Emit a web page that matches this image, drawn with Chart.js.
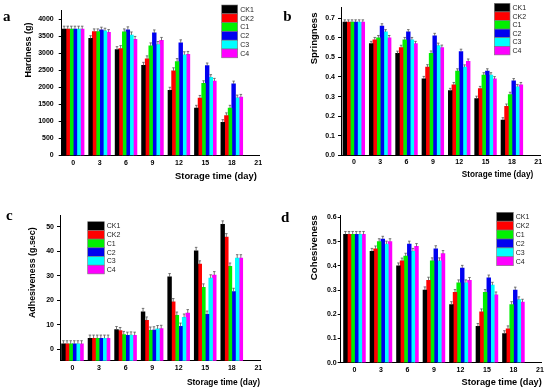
<!DOCTYPE html>
<html>
<head>
<meta charset="utf-8">
<script src="https://cdn.jsdelivr.net/npm/chart.js@4.4.0/dist/chart.umd.min.js"></script>
<style>
html, body { margin: 0; padding: 0; background: #fff; }
#wrap { position: relative; width: 550px; height: 390px; }
.pn { position: absolute; width: 275px; height: 195px; }
canvas { display: block; }
</style>
</head>
<body>
<div id="wrap">
  <div class="pn" style="left:0;top:0"><canvas id="cA" width="275" height="195"></canvas></div>
  <div class="pn" style="left:275px;top:0"><canvas id="cB" width="275" height="195"></canvas></div>
  <div class="pn" style="left:0;top:195px"><canvas id="cC" width="275" height="195"></canvas></div>
  <div class="pn" style="left:275px;top:195px"><canvas id="cD" width="275" height="195"></canvas></div>
</div>
<script>
// storage days and treatments
var days = [0, 3, 6, 9, 12, 15, 18];
var dayTicks = [0, 3, 6, 9, 12, 15, 18, 21];
var seriesNames = ['CK1', 'CK2', 'C1', 'C2', 'C3', 'C4'];
var seriesColors = ['#000000', '#ff0000', '#00f000', '#0000f0', '#00ffff', '#ff00ff'];

// a - hardness (g), one row per treatment
var hardness = [
  [3700, 3430, 3100, 2640, 1910, 1390, 970],
  [3700, 3630, 3130, 2830, 2480, 1680, 1170],
  [3700, 3630, 3620, 3210, 2750, 2110, 1390],
  [3700, 3680, 3680, 3590, 3300, 2630, 2100],
  [3700, 3650, 3530, 3250, 2950, 2290, 1690],
  [3700, 3610, 3400, 3370, 2960, 2180, 1710]
];
var hardnessErr = [90, 80, 90, 90, 90, 80, 80];
var hardnessTicks = [0, 500, 1000, 1500, 2000, 2500, 3000, 3500, 4000];

// b - springness
var springness = [
  [0.68, 0.57, 0.52, 0.39, 0.33, 0.29, 0.18],
  [0.68, 0.59, 0.55, 0.45, 0.36, 0.34, 0.25],
  [0.68, 0.60, 0.59, 0.52, 0.43, 0.41, 0.31],
  [0.68, 0.66, 0.63, 0.61, 0.53, 0.43, 0.38],
  [0.68, 0.63, 0.59, 0.56, 0.45, 0.41, 0.35],
  [0.68, 0.60, 0.57, 0.55, 0.48, 0.39, 0.36]
];
var springnessErr = [0.012, 0.012, 0.012, 0.013, 0.012, 0.012, 0.012];
var springnessTicks = [0, 0.1, 0.2, 0.3, 0.4, 0.5, 0.6, 0.7];

// c - adhesiveness (g.sec)
var adhesiveness = [
  [2.2, 4.5, 8.0, 15.3, 29.5, 40.2, 51.0],
  [2.2, 4.5, 7.6, 11.8, 19.3, 34.7, 45.8],
  [2.2, 4.5, 6.0, 7.7, 13.8, 25.3, 33.8],
  [2.2, 4.5, 5.7, 7.8, 9.3, 14.2, 23.5],
  [2.2, 4.5, 5.8, 8.3, 13.0, 29.0, 37.2],
  [2.2, 4.5, 5.7, 8.4, 14.8, 30.3, 37.2]
];
var adhesivenessErr = [1.3, 1.3, 1.3, 1.4, 1.4, 1.4, 1.4];
var adhesivenessTicks = [0, 10, 20, 30, 40, 50];

// d - cohesiveness
var cohesiveness = [
  [0.53, 0.46, 0.40, 0.30, 0.24, 0.15, 0.12],
  [0.53, 0.47, 0.42, 0.34, 0.29, 0.21, 0.14],
  [0.53, 0.50, 0.44, 0.42, 0.33, 0.29, 0.24],
  [0.53, 0.51, 0.49, 0.47, 0.39, 0.35, 0.30],
  [0.53, 0.49, 0.46, 0.42, 0.33, 0.32, 0.26],
  [0.53, 0.50, 0.48, 0.45, 0.34, 0.28, 0.25]
];
var cohesivenessErr = [0.012, 0.012, 0.012, 0.013, 0.012, 0.012, 0.012];
var cohesivenessTicks = [0, 0.1, 0.2, 0.3, 0.4, 0.5, 0.6];

Chart.defaults.font.family = "'Liberation Sans', Arial, sans-serif";
Chart.defaults.color = '#000';

// error bar caps on top of every bar
var errorBars = {
  id: 'errorBars',
  afterDatasetsDraw: function(chart, args, opts) {
    var ctx = chart.ctx, ys = chart.scales.y;
    ctx.save();
    ctx.strokeStyle = '#555';
    ctx.lineWidth = 0.8;
    chart.data.datasets.forEach(function(ds, i) {
      chart.getDatasetMeta(i).data.forEach(function(bar, j) {
        var top = ys.getPixelForValue(ds.data[j].y + opts.err[j]);
        var cap = bar.width * 0.35;
        ctx.beginPath();
        ctx.moveTo(bar.x, bar.y);
        ctx.lineTo(bar.x, top);
        ctx.moveTo(bar.x - cap, top);
        ctx.lineTo(bar.x + cap, top);
        ctx.stroke();
      });
    });
    ctx.restore();
  }
};

// stacked box legend inside the plot + panel letter
var boxLegend = {
  id: 'boxLegend',
  afterDraw: function(chart, args, o) {
    var ctx = chart.ctx;
    ctx.save();
    ctx.font = "7px 'Liberation Sans', Arial, sans-serif";
    ctx.textBaseline = 'middle';
    chart.data.datasets.forEach(function(ds, i) {
      var y0 = o.y + i * o.h;
      ctx.fillStyle = ds.backgroundColor;
      ctx.fillRect(o.x, y0, o.w, o.h);
      ctx.strokeStyle = '#777';
      ctx.lineWidth = 0.6;
      ctx.strokeRect(o.x, y0, o.w, o.h);
      ctx.fillStyle = '#222';
      ctx.fillText(ds.label, o.x + o.w + 2.5, y0 + o.h / 2 + 0.5);
    });
    ctx.font = "bold 15px 'Liberation Serif', 'Times New Roman', serif";
    ctx.fillStyle = '#000';
    ctx.textBaseline = 'alphabetic';
    ctx.fillText(o.tag, o.tagX, o.tagY);
    ctx.restore();
  }
};

function makePanel(id, p) {
  var datasets = seriesNames.map(function(n, i) {
    return {
      label: n,
      data: days.map(function(d, j) { return { x: d, y: p.values[i][j] }; }),
      backgroundColor: seriesColors[i],
      borderWidth: 0,
      inflateAmount: 0.4,
      base: p.base,
      categoryPercentage: 0.82,
      barPercentage: 1
    };
  });
  new Chart(document.getElementById(id), {
    type: 'bar',
    data: { datasets: datasets },
    options: {
      responsive: false,
      animation: false,
      devicePixelRatio: 1,
      layout: { padding: p.pad },
      plugins: {
        legend: { display: false },
        tooltip: { enabled: false },
        errorBars: { err: p.err },
        boxLegend: p.legend
      },
      scales: {
        x: {
          type: 'linear',
          offset: false,
          min: p.xMin, max: p.xMax,
          afterBuildTicks: function(s) { s.ticks = dayTicks.map(function(v) { return { value: v }; }); },
          afterFit: function(s) { s.height = p.xH; },
          grid: { drawOnChartArea: false, drawTicks: false },
          border: { color: '#000', width: 1 },
          ticks: { padding: 3, maxRotation: 0, autoSkip: false,
                   font: { size: 7, weight: 'bold' }, callback: function(v) { return String(v); } },
          title: { display: true, text: 'Storage time (day)' + p.xTail, align: 'end',
                   font: { size: p.xTitleSize, weight: 'bold' },
                   padding: { top: 0, bottom: p.xTitleBottom } }
        },
        y: {
          min: p.yMin, max: p.yMax,
          afterBuildTicks: function(s) { s.ticks = p.yTicks.map(function(v) { return { value: v }; }); },
          afterFit: function(s) { s.width = p.yW; },
          grid: { drawOnChartArea: false, drawTicks: true, tickLength: 3, color: '#000' },
          border: { color: '#000', width: 1 },
          ticks: { padding: p.yTickPad, autoSkip: false,
                   font: { size: 7, weight: 'bold' }, callback: p.fmt },
          title: { display: true, text: p.yTitle, align: 'end',
                   font: { size: p.yTitleSize, weight: 'bold' },
                   padding: { top: p.yTitlePad, bottom: 0 } }
        }
      }
    },
    plugins: [errorBars, boxLegend]
  });
}

function fmtInt(v) { return String(v); }
function fmt1(v) { return v.toFixed(1); }

makePanel('cA', {
  values: hardness, err: hardnessErr, yTicks: hardnessTicks,
  pad: { left: 0, top: 10, right: 15.6, bottom: 0 }, yW: 61.7, xH: 39.5,
  xMin: -1.3, xMax: 21.13, yMin: 0, yMax: 4264, fmt: fmtInt,
  yTickPad: 5, yTitle: 'Hardness (g)\u00a0\u00a0\u00a0\u00a0\u00a0', yTitleSize: 9, yTitlePad: 23.6,
  xTail: ' ', xTitleSize: 9.4, xTitleBottom: 13.3,
  legend: { x: 221.7, y: 5, w: 16, h: 8.8, tag: 'a', tagX: 3, tagY: 20.7 }
});

makePanel('cB', {
  values: springness, err: springnessErr, yTicks: springnessTicks,
  pad: { left: 0, top: 7.3, right: 10, bottom: 0 }, yW: 66, xH: 39.7,
  xMin: -1.46, xMax: 21.2, yMin: 0, yMax: 0.756, fmt: fmt1,
  yTickPad: 3, yTitle: 'Springness\u00a0\u00a0', yTitleSize: 9.5, yTitlePad: 33.9,
  xTail: '\u00a0\u00a0\u00a0', xTitleSize: 8.2, xTitleBottom: 15,
  legend: { x: 219.3, y: 3.3, w: 15.7, h: 8.6, tag: 'b', tagX: 8.3, tagY: 20.7 }
});

makePanel('cC', {
  values: adhesiveness, err: adhesivenessErr, yTicks: adhesivenessTicks, base: -4.65,
  pad: { left: 0, top: 20, right: 15, bottom: 0 }, yW: 60, xH: 29.3,
  xMin: -1.41, xMax: 21.19, yMin: -4.65, yMax: 54.8, fmt: fmtInt,
  yTickPad: 3, yTitle: 'Adhesiveness (g.sec)\u00a0\u00a0\u00a0\u00a0\u00a0', yTitleSize: 8.9, yTitlePad: 26.9,
  xTail: '', xTitleSize: 8.4, xTitleBottom: 2.3,
  legend: { x: 87.7, y: 26.7, w: 16.6, h: 8.7, tag: 'c', tagX: 6, tagY: 25 }
});

makePanel('cD', {
  values: cohesiveness, err: cohesivenessErr, yTicks: cohesivenessTicks,
  pad: { left: 0, top: 20, right: 8.3, bottom: 0 }, yW: 65.7, xH: 27.3,
  xMin: -1.56, xMax: 21.2, yMin: 0, yMax: 0.61, fmt: fmt1,
  yTickPad: 1, yTitle: 'Cohesiveness', yTitleSize: 9.7, yTitlePad: 33.9,
  xTail: '', xTitleSize: 9.2, xTitleBottom: 1.8,
  legend: { x: 221.7, y: 17.3, w: 16.6, h: 8.9, tag: 'd', tagX: 6, tagY: 26.7 }
});
</script>
</body>
</html>
